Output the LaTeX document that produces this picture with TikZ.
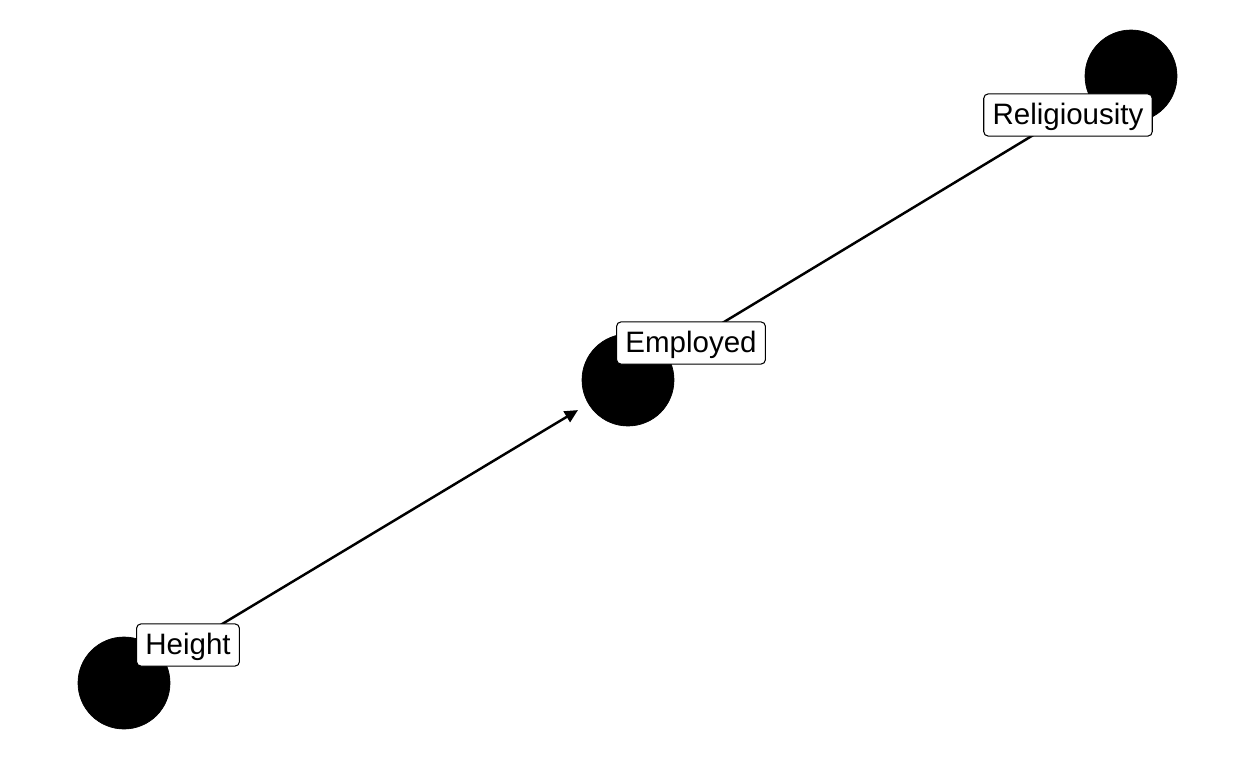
\documentclass[tikz,border=0pt]{standalone}
\usepackage{fontspec}
\setmainfont{Liberation Sans}
\usetikzlibrary{arrows.meta}

\begin{document}
\begin{tikzpicture}[x=0.02cm,y=-0.02cm,
                    dot node/.style={circle,fill=black,draw=black,inner sep=0pt,minimum size=1.84cm},
                    label node/.style={rectangle,rounded corners=2.5pt,fill=white,draw=black,line width=0.6pt,
                                       font=\fontsize{16.8}{20}\selectfont,inner xsep=5pt,inner ysep=3pt,
                                       text height=14pt,text depth=3pt,minimum height=24pt},
                    edge line/.style={line width=1.4pt,shorten <=0.24cm,shorten >=0.24cm,-{Triangle[length=7.5pt,width=7pt]}}]
\useasboundingbox (0,0) rectangle (1248,768);

% nodes
\node[dot node] (H) at (124,683) {};
\node[dot node] (E) at (628,380) {};
\node[dot node] (R) at (1131,76) {};

% edges
\draw[edge line] (H) -- (E);
\draw[edge line] (R) -- (E);

% labels
\node[label node] (HLabel) at (188,645) {Height};
\node[label node] (ELabel) at (691,343) {Employed};
\node[label node] (RLabel) at (1068,115) {Religiousity};

\end{tikzpicture}
\end{document}
